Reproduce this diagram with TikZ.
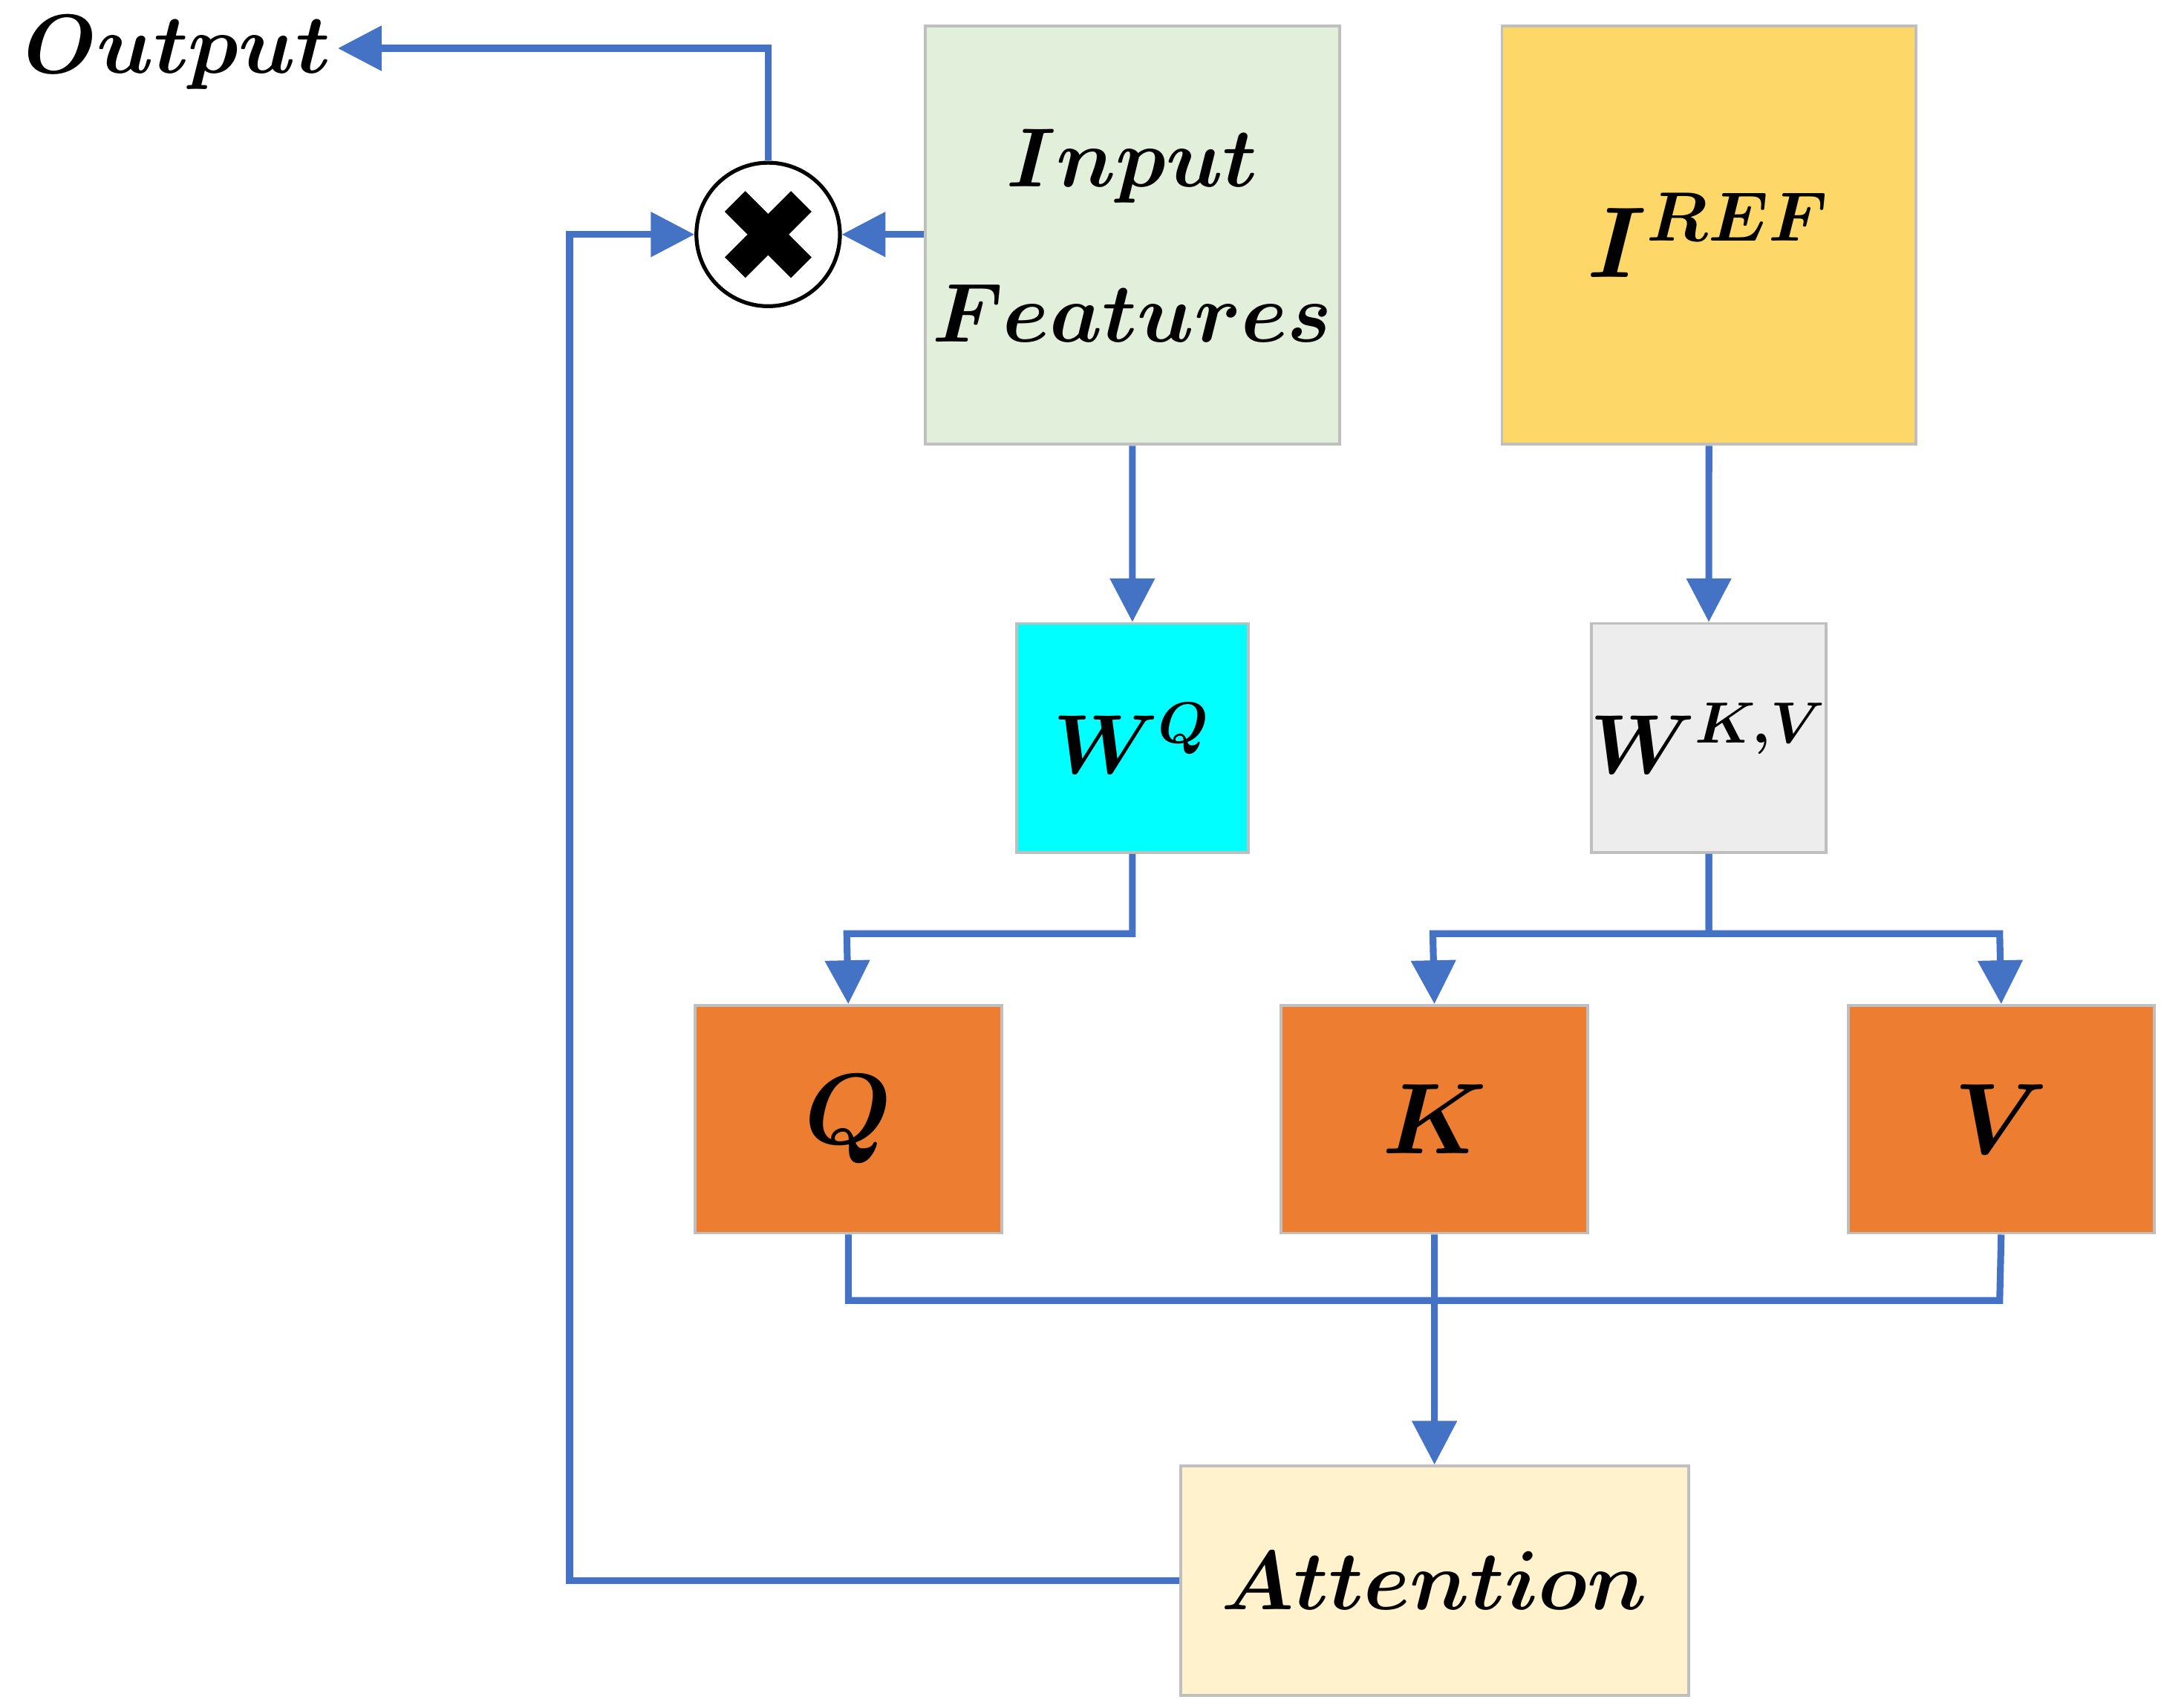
\documentclass[tikz,border=0pt]{standalone}
\usepackage{amsmath,bm}
\usetikzlibrary{positioning,arrows.meta,calc}
\definecolor{lineblue}{HTML}{4472C4}
\definecolor{inputgreen}{HTML}{E2EFDA}
\definecolor{refyellow}{HTML}{FDD868}
\definecolor{wcyan}{HTML}{00FFFF}
\definecolor{wgray}{HTML}{EDEDED}
\definecolor{qkvorange}{HTML}{ED7D31}
\definecolor{attnyellow}{HTML}{FFF2CC}
\tikzset{
  box/.style={draw=black!25, line width=0.6pt, inner sep=0pt, anchor=north west},
  link/.style={draw=lineblue, line width=1.4pt, -{Triangle[length=9pt,width=9pt]}},
  plain/.style={draw=lineblue, line width=1.4pt},
  lbl/.style={font=\LARGE\boldmath},
  big/.style={font=\huge\boldmath}
}
\begin{document}
\begin{tikzpicture}[x=0.01cm,y=-0.01cm]
    \useasboundingbox (0,0) rectangle (1567,1238);
    % boxes
    \node[box,fill=inputgreen,minimum width=3cm,minimum height=3.03cm] (inp) at (670,18) {};
    \node[lbl,align=center] at (inp.center) {$\bm{Input}$\\[10pt]$\bm{Features}$};
    \node[box,fill=refyellow,minimum width=3cm,minimum height=3.03cm] (ref) at (1088,18) {};
    \node[big] at (ref.center) {$\bm{I^{REF}}$};
    \node[box,fill=wcyan,minimum width=1.68cm,minimum height=1.66cm] (wq) at (736,451) {};
    \node[lbl] at (wq.center) {$\bm{W^{Q}}$};
    \node[box,fill=wgray,minimum width=1.7cm,minimum height=1.66cm] (wkv) at (1153,451) {};
    \node[lbl] at (wkv.center) {$\bm{W^{K,V}}$};
    \node[box,fill=qkvorange,minimum width=2.22cm,minimum height=1.65cm] (q) at (503,728) {};
    \node[big] at (q.center) {$\bm{Q}$};
    \node[box,fill=qkvorange,minimum width=2.22cm,minimum height=1.65cm] (k) at (928,728) {};
    \node[big] at (k.center) {$\bm{K}$};
    \node[box,fill=qkvorange,minimum width=2.22cm,minimum height=1.65cm] (v) at (1339,728) {};
    \node[big] at (v.center) {$\bm{V}$};
    \node[box,fill=attnyellow,minimum width=3.68cm,minimum height=1.66cm] (att) at (855,1062) {};
    \node[lbl] at (att.center) {$\bm{Attention}$};
    \node[circle,draw,line width=0.8pt,minimum size=1.04cm,inner sep=0pt] (mul) at (557,170) {};
    \draw[line width=6pt] ($(mul.center)+(-24,-24)$) -- ($(mul.center)+(24,24)$);
    \draw[line width=6pt] ($(mul.center)+(-24,24)$) -- ($(mul.center)+(24,-24)$);
    \node[lbl,anchor=west] (out) at (5,38) {$\bm{Output}$};
    \coordinate (outend) at (245,35);

    % connectors
    \draw[link] (inp.south) -- (wq.north);
    \draw[link] (ref.south) -- (wkv.north);
    \draw[link] (wq.south) |- (614,677) -- (q.north);
    \draw[link] (wkv.south) |- (1039,677) -- (k.north);
    \draw[link] (wkv.south) |- (1450,677) -- (v.north);
    \draw[plain] (q.south) |- (1450,943) -- (v.south);
    \draw[link] (k.south) -- (att.north);
    \draw[link] (att.west) -| (413,170) -- (mul.west);
    \draw[link] (inp.west |- mul.east) -- (mul.east);
    \draw[link] (mul.north) |- (outend);
\end{tikzpicture}
\end{document}
